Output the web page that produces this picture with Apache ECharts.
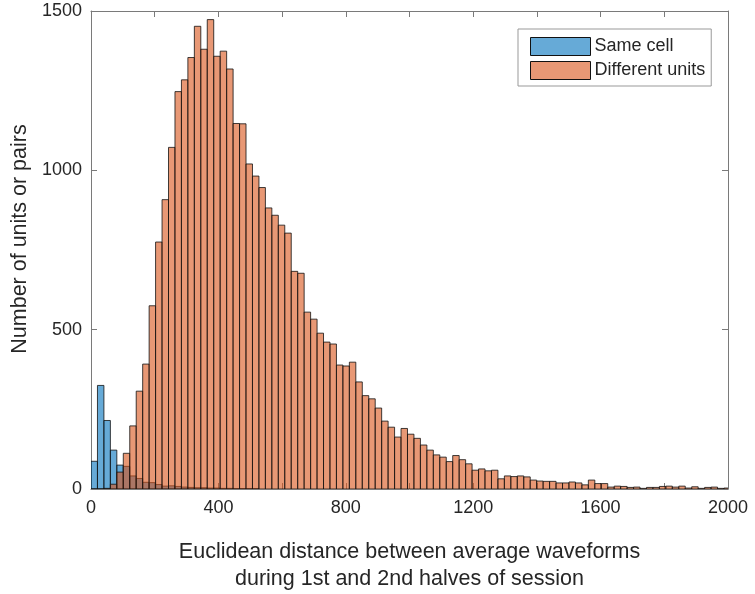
<!DOCTYPE html>
<html>
<head>
<meta charset="utf-8">
<script src="https://cdn.jsdelivr.net/npm/echarts@6/dist/echarts.min.js"></script>
<style>
html,body{margin:0;padding:0;background:#fff;}
#chart{width:755px;height:594px;}
</style>
</head>
<body>
<div id="chart"></div>
<script>
// Bin width of the histogram (data units)
const binWidth = 20.28;

// Counts per bin, starting at 0
const sameCellCounts = [87, 325, 215, 122, 75, 71, 41, 33, 21, 20, 14, 9, 10, 8, 6, 5, 4, 4, 3, 3, 2, 2, 1, 1, 1, 1];

const diffUnitsCounts = [
  0, 0, 2, 15, 53, 112, 198, 307, 392, 575,
  775, 908, 1072, 1247, 1284, 1354, 1452, 1380, 1473, 1358,
  1374, 1318, 1147, 1146, 1020, 982, 946, 882, 859, 828,
  803, 683, 677, 555, 533, 489, 461, 455, 389, 386,
  398, 336, 293, 283, 254, 213, 194, 163, 190, 172,
  159, 138, 122, 107, 100, 86, 105, 92, 79, 59,
  63, 57, 59, 32, 41, 39, 41, 38, 28, 25,
  24, 24, 19, 19, 22, 19, 13, 28, 17, 17,
  6, 9, 8, 5, 6, 2, 5, 5, 8, 9,
  6, 9, 3, 7, 2, 5, 6, 2, 3
];

const seriesNames = ['Same cell', 'Different units'];
const xTicks = [0, 400, 800, 1200, 1600, 2000];
const yTicks = [0, 500, 1000, 1500];

const FONT = '"Liberation Sans", Arial, Helvetica, sans-serif';
const TXT = '#262626';
const AXC = '#7a7a7a';

function toBins(counts) {
  return counts.map((c, i) => [i * binWidth, (i + 1) * binWidth, c]);
}

function makeRender(fill) {
  return function (params, api) {
    const p0 = api.coord([api.value(0), 0]);
    const p1 = api.coord([api.value(1), api.value(2)]);
    return {
      type: 'rect',
      shape: { x: p0[0], y: p1[1], width: p1[0] - p0[0], height: p0[1] - p1[1] },
      style: { fill: fill, stroke: '#111', lineWidth: 0.8 }
    };
  };
}

const blueFill = 'rgba(0,114,189,0.6)';
const orangeFill = 'rgba(217,83,25,0.6)';

const chart = echarts.init(document.getElementById('chart'), null, { renderer: 'canvas' });

const axisCommon = {
  axisLine: { show: true, onZero: false, lineStyle: { color: AXC, width: 1 } },
  axisTick: { show: true, inside: true, length: 6, lineStyle: { color: AXC, width: 1 } },
  splitLine: { show: false }
};

chart.setOption({
  animation: false,
  backgroundColor: '#fff',
  textStyle: { fontFamily: FONT },
  grid: { left: 91, right: 27, top: 11, bottom: 105, containLabel: false, outerBoundsMode: 'none' },
  legend: {
    orient: 'vertical',
    left: 518, top: 29,
    padding: [8, 6, 6, 12],
    itemGap: 5,
    itemWidth: 60, itemHeight: 18,
    backgroundColor: '#fff',
    borderColor: '#999', borderWidth: 1,
    textStyle: { fontFamily: FONT, fontSize: 18, color: TXT, padding: [0, 0, 0, -1] },
    data: [
      { name: seriesNames[0], icon: 'rect', itemStyle: { color: blueFill, borderColor: '#111', borderWidth: 1 } },
      { name: seriesNames[1], icon: 'rect', itemStyle: { color: orangeFill, borderColor: '#111', borderWidth: 1 } }
    ]
  },
  xAxis: [
    Object.assign({
      type: 'value', min: 0, max: 2000, interval: 200, position: 'bottom',
      axisLabel: {
        show: true, margin: 10, fontSize: 18, color: TXT, fontFamily: FONT,
        formatter: v => (xTicks.indexOf(v) >= 0 ? String(v) : '')
      },
      name: 'Euclidean distance between average waveforms\nduring 1st and 2nd halves of session',
      nameLocation: 'middle', nameGap: 50,
      nameTextStyle: { fontSize: 21.5, color: TXT, fontFamily: FONT, lineHeight: 27 }
    }, axisCommon),
    Object.assign({
      type: 'value', min: 0, max: 2000, interval: 200, position: 'top',
      axisLabel: { show: false }
    }, axisCommon)
  ],
  yAxis: [
    Object.assign({
      type: 'value', min: 0, max: 1500, interval: 500, position: 'left',
      axisLabel: {
        show: true, margin: 9, fontSize: 18, color: TXT, fontFamily: FONT,
        formatter: v => (yTicks.indexOf(v) >= 0 ? String(v) : '')
      },
      name: 'Number of units or pairs',
      nameLocation: 'middle', nameGap: 53,
      nameTextStyle: { fontSize: 21.5, color: TXT, fontFamily: FONT, padding: [0, 0, 0, 22] }
    }, axisCommon),
    Object.assign({
      type: 'value', min: 0, max: 1500, interval: 500, position: 'right',
      axisLabel: { show: false }
    }, axisCommon)
  ],
  series: [
    {
      name: seriesNames[0], type: 'custom', xAxisIndex: 0, yAxisIndex: 0,
      clip: true, renderItem: makeRender(blueFill),
      itemStyle: { color: blueFill },
      encode: { x: [0, 1], y: 2 },
      data: toBins(sameCellCounts)
    },
    {
      name: seriesNames[1], type: 'custom', xAxisIndex: 0, yAxisIndex: 0,
      clip: true, renderItem: makeRender(orangeFill),
      itemStyle: { color: orangeFill },
      encode: { x: [0, 1], y: 2 },
      data: toBins(diffUnitsCounts)
    }
  ]
});
</script>
</body>
</html>
